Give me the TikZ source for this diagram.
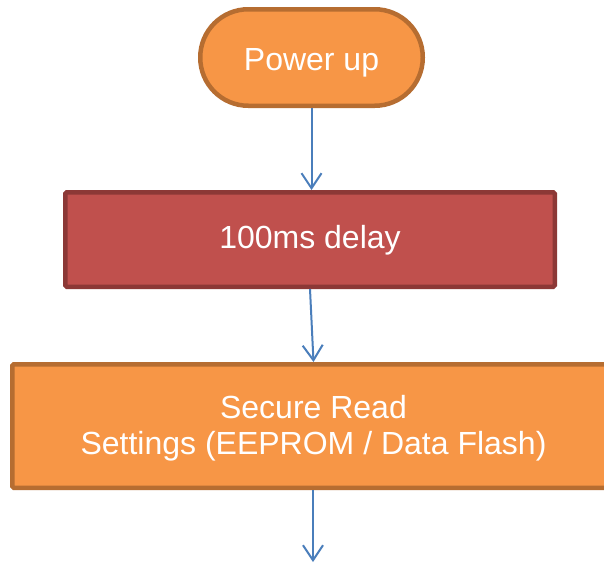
\documentclass[tikz,border=0pt]{standalone}
\usepackage{fontspec}
\setmainfont{Liberation Sans}
\usetikzlibrary{arrows.meta}

\definecolor{orangefill}{HTML}{F79646}
\definecolor{orangeline}{HTML}{B66D31}
\definecolor{redfill}{HTML}{C0504D}
\definecolor{redline}{HTML}{8C3836}
\definecolor{flowblue}{HTML}{4A7EBB}

\tikzset{
  boxtext/.style={text=white, font=\fontsize{32}{36}\selectfont, inner sep=0pt},
  terminal/.style={boxtext, draw=orangeline, fill=orangefill, line width=4.5pt,
    rounded corners=48pt, minimum width=222.5pt, minimum height=96.5pt},
  delaybox/.style={boxtext, draw=redline, fill=redfill, line width=4.5pt,
    rounded corners=1.5pt, minimum width=489.5pt, minimum height=94.5pt},
  procbox/.style={boxtext, draw=orangeline, fill=orangefill, line width=4.5pt,
    rounded corners=1.5pt, minimum width=602.5pt, minimum height=123.5pt, align=center},
  flow/.style={draw=flowblue, line width=2pt,
    -{Straight Barb[length=15pt, width=20pt, line width=2pt]}}
}

\begin{document}
\begin{tikzpicture}[x=1pt, y=-1pt]
  \useasboundingbox (0,0) rectangle (604,562);
  \fill[white] (0,0) rectangle (604,562);
  \clip (0,0) rectangle (604,562);

  % flowchart steps
  \node[terminal, text height=31pt, text depth=5pt] (pwr) at (311.5,57.5) {Power up};
  \node[delaybox, text height=24pt, text depth=6.4pt] (delay) at (310,239.5) {100ms delay};
  \node[procbox] (read) at (313.5,426)
    {\rule{0pt}{27pt}Secure Read\\Settings (EEPROM / Data Flash)};
  \coordinate (next) at (313,562);

  % connectors
  \draw[flow] (pwr.south) -- (pwr.south |- delay.north);
  \draw[flow] (delay.south) -- (read.north);
  \draw[flow] (read.south -| next) -- (next);
\end{tikzpicture}
\end{document}
